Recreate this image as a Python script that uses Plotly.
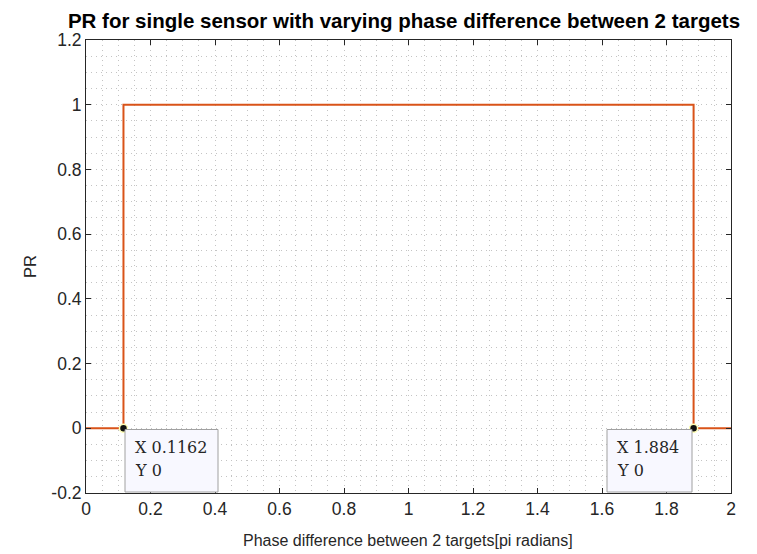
import plotly.graph_objects as go

# Data
x_vals = [0, 0.1162, 0.1162, 1.884, 1.884, 2]
y_vals = [0, 0, 1, 1, 0, 0]
tip_x = [0.1162, 1.884]
tip_y = [0, 0]
tip_labels = ["0.1162", "1.884"]
x_ticks = [0, 0.2, 0.4, 0.6, 0.8, 1, 1.2, 1.4, 1.6, 1.8, 2]
x_tick_text = ["0", "0.2", "0.4", "0.6", "0.8", "1", "1.2", "1.4", "1.6", "1.8", "2"]
y_ticks = [-0.2, 0, 0.2, 0.4, 0.6, 0.8, 1, 1.2]
y_tick_text = ["-0.2", "0", "0.2", "0.4", "0.6", "0.8", "1", "1.2"]

W, H = 757, 554
L, R, T, B = 86, 26, 40, 61
PW, PH = W - L - R, H - T - B

fig = go.Figure()
fig.add_trace(go.Scatter(x=x_vals, y=y_vals, mode="lines",
                         line=dict(color="#D95319", width=2), showlegend=False,
                         hoverinfo="skip"))
fig.add_trace(go.Scatter(x=tip_x, y=tip_y, mode="markers",
                         marker=dict(color="#111111", size=8,
                                     line=dict(color="#ffffb8", width=1.5)),
                         showlegend=False, hoverinfo="skip"))

def px2x(px):
    return (px - L) / PW * 2

def py2y(py):
    return 1.2 - (py - T) / PH * 1.4

def ppx(px):
    return (px - L) / PW

def ppy(py):
    return (H - B - py) / PH

boxes = [(125, 218), (607, 692)]
shapes = []
annotations = []
serif = "DejaVu Serif"
for (l, r), xv, lab in zip(boxes, tip_x, tip_labels):
    shapes.append(dict(type="rect", xref="x", yref="y",
                       x0=px2x(l), x1=px2x(r), y0=py2y(492), y1=py2y(429.5),
                       fillcolor="#f8f8ff", line=dict(color="#a0a0a0", width=1),
                       layer="above"))
    annotations.append(dict(x=px2x(l + 8), y=py2y(447), xref="x", yref="y",
                            text="X " + lab, showarrow=False, xanchor="left",
                            yanchor="middle",
                            font=dict(family=serif, size=16, color="#262626")))
    annotations.append(dict(x=px2x(l + 8), y=py2y(470), xref="x", yref="y",
                            text="Y 0", showarrow=False, xanchor="left",
                            yanchor="middle",
                            font=dict(family=serif, size=16, color="#262626")))

# Axis titles
annotations.append(dict(x=ppx(407.5), y=ppy(540), xref="paper", yref="paper",
                        text="Phase difference between 2 targets[pi radians]",
                        showarrow=False, xanchor="center", yanchor="middle",
                        font=dict(family="Liberation Sans", size=16, color="#262626")))
annotations.append(dict(x=ppx(30), y=ppy(267), xref="paper", yref="paper",
                        text="PR", textangle=-90,
                        showarrow=False, xanchor="center", yanchor="middle",
                        font=dict(family="Liberation Sans", size=16.5, color="#262626")))

grid_col = "#c4c4c4"
grid_dash = "1px,4px"
axis_common = dict(showline=True, linecolor="#262626", linewidth=1, mirror="ticks",
                   ticks="inside", ticklen=5, tickcolor="#262626",
                   showgrid=True, gridcolor=grid_col, griddash=grid_dash, gridwidth=1,
                   zeroline=False, automargin=False,
                   tickfont=dict(family="Liberation Sans", size=17.5, color="#262626"))

fig.update_layout(
    width=W, height=H,
    margin=dict(l=L, r=R, t=T, b=B),
    paper_bgcolor="white", plot_bgcolor="white",
    title=dict(text="<b>PR for single sensor with varying phase difference between 2 targets</b>",
               x=404 / W, xanchor="center", y=1 - 21 / H, yanchor="middle",
               font=dict(family="Liberation Sans", size=20.5, color="#000000")),
    xaxis=dict(range=[0, 2], tickvals=x_ticks, ticktext=x_tick_text,
               minor=dict(dtick=0.05, tick0=0, showgrid=True, gridcolor=grid_col,
                          griddash=grid_dash, ticks=""),
               **axis_common),
    yaxis=dict(range=[-0.2, 1.2], tickvals=y_ticks, ticktext=y_tick_text,
               minor=dict(dtick=0.05, tick0=0, showgrid=True, gridcolor=grid_col,
                          griddash=grid_dash, ticks=""),
               **axis_common),
    shapes=shapes,
    annotations=annotations,
)

fig.write_html("out.html")
